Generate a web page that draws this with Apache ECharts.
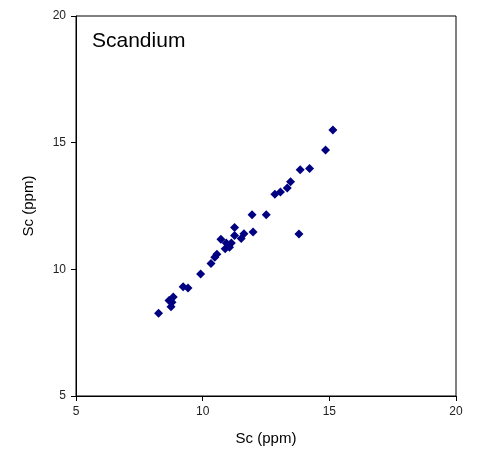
<!DOCTYPE html>
<html><head><meta charset="utf-8">
<script src="https://cdn.jsdelivr.net/npm/echarts@6/dist/echarts.min.js"></script>
<style>html,body{margin:0;padding:0;background:#fff}#c{width:482px;height:451px}</style>
</head><body><div id="c"></div>
<script>
const xValues = [15.14,14.85,13.85,14.22,13.47,13.34,13.07,12.85,11.95,12.51,13.80,11.99,11.26,11.63,11.52,11.26,10.72,10.93,11.13,11.06,10.89,10.56,10.48,10.33,9.92,9.23,9.42,8.84,8.67,8.79,8.75,8.26];
const yValues = [15.50,14.71,13.93,13.98,13.46,13.21,13.05,12.96,12.15,12.15,11.39,11.47,11.65,11.40,11.22,11.34,11.19,11.04,11.04,10.87,10.81,10.60,10.48,10.23,9.82,9.31,9.26,8.91,8.77,8.70,8.52,8.27];
const chartTitle = 'Scandium';
const xName = 'Sc (ppm)';
const yName = 'Sc (ppm)';
const points = xValues.map((x,i)=>[x,yValues[i]]);
const font = 'Arial, "Liberation Sans", sans-serif';
const chart = echarts.init(document.getElementById('c'));
const axisCommon = {
  min:5, max:20, interval:5,
  nameLocation:'middle',
  nameTextStyle:{fontFamily:font,fontSize:15,color:'#000'},
  axisLine:{show:true,onZero:false,lineStyle:{color:'#000',width:1}},
  axisTick:{show:true,length:5,lineStyle:{color:'#000'}},
  axisLabel:{fontFamily:font,fontSize:12,color:'#222',margin:10},
  splitLine:{show:false}
};
chart.setOption({
  animation:false,
  backgroundColor:'#fff',
  title:{text:chartTitle,left:87,top:26,textStyle:{fontFamily:font,fontSize:21,fontWeight:'normal',color:'#000'}},
  grid:{left:76,right:26,top:16,bottom:55,show:true,borderColor:'#000',borderWidth:1,containLabel:false},
  xAxis:Object.assign({type:'value',name:xName,nameGap:35},axisCommon),
  yAxis:Object.assign({type:'value',name:yName,nameGap:40},axisCommon),
  series:[{type:'scatter',data:points,symbol:'diamond',symbolSize:9,itemStyle:{color:'#000080',opacity:1}}]
});
</script></body></html>
